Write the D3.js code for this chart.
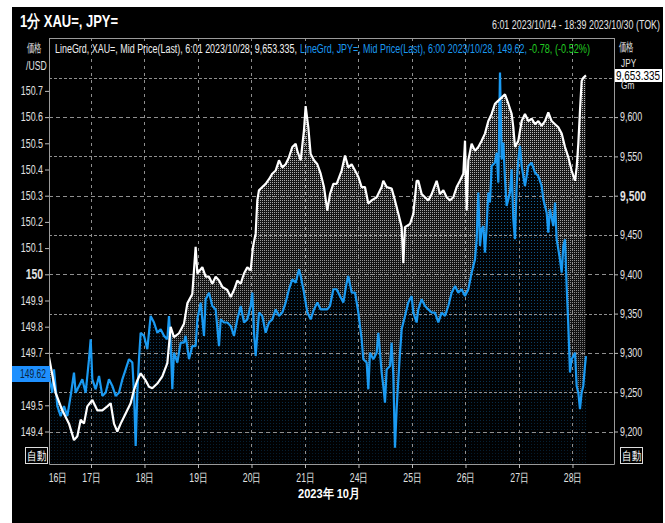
<!DOCTYPE html>
<html>
<head>
<meta charset="utf-8">
<script src="https://cdn.jsdelivr.net/npm/d3@7"></script>
<style>
body { margin: 0; background: #fff; }
svg { display: block; }
text { font-family: "Liberation Sans", Arial, sans-serif; }
</style>
</head>
<body>
<svg id="chart"></svg>
<script>
var width = 665,
    height = 523;

// day index 0 = 17日 boundary
var dayTicks = [0, 1, 2, 3, 4, 5, 6, 7, 8, 9];
var dayLabels = ["17日", "18日", "19日", "20日", "21日", "24日", "25日", "26日", "27日", "28日"];
var usdTicks = [149.4, 149.5, 149.7, 149.8, 149.9, 150, 150.1, 150.2, 150.3, 150.4, 150.5, 150.6, 150.7];
var xauTicks = [9200, 9250, 9300, 9350, 9400, 9450, 9500, 9550, 9600];
var gridTicks = [9200, 9250, 9300, 9350, 9400, 9450, 9500, 9550, 9600, 9650];

// XAU=/JPY (yen per gram), [day, value]
var xauData = [[-0.785,9295],[-0.660,9249],[-0.536,9227],[-0.411,9210],[-0.318,9189],[-0.255,9194],[-0.193,9215],[-0.131,9210],[-0.069,9232],[0.025,9240],[0.118,9227],[0.212,9227],[0.305,9232],[0.368,9236],[0.430,9210],[0.492,9200],[0.555,9210],[0.648,9223],[0.741,9236],[0.804,9253],[0.866,9265],[0.928,9274],[1.022,9265],[1.084,9257],[1.146,9255],[1.240,9261],[1.333,9270],[1.427,9287],[1.489,9333],[1.551,9320],[1.645,9325],[1.738,9337],[1.801,9363],[1.894,9375],[1.956,9435],[1.988,9401],[2.081,9409],[2.143,9397],[2.206,9397],[2.268,9388],[2.330,9397],[2.393,9392],[2.455,9384],[2.548,9380],[2.611,9371],[2.673,9380],[2.735,9392],[2.798,9388],[2.860,9401],[2.922,9409],[2.984,9405],[3.028,9435],[3.078,9452],[3.109,9494],[3.140,9507],[3.202,9511],[3.265,9515],[3.327,9521],[3.389,9528],[3.452,9532],[3.514,9545],[3.576,9536],[3.639,9540],[3.701,9549],[3.763,9562],[3.826,9566],[3.857,9557],[3.919,9545],[3.981,9583],[4.012,9614],[4.062,9587],[4.106,9553],[4.168,9545],[4.231,9540],[4.293,9528],[4.355,9511],[4.417,9481],[4.467,9502],[4.530,9515],[4.592,9515],[4.685,9532],[4.748,9551],[4.810,9536],[4.872,9540],[4.935,9532],[4.997,9524],[5.059,9511],[5.121,9511],[5.184,9490],[5.246,9494],[5.340,9498],[5.433,9511],[5.464,9519],[5.526,9511],[5.620,9509],[5.682,9494],[5.745,9477],[5.807,9460],[5.838,9414],[5.869,9460],[5.963,9464],[6.025,9477],[6.087,9519],[6.118,9519],[6.181,9502],[6.243,9498],[6.305,9494],[6.368,9502],[6.461,9519],[6.523,9502],[6.586,9507],[6.648,9498],[6.710,9494],[6.773,9498],[6.835,9511],[6.897,9519],[6.960,9528],[6.991,9570],[7.022,9481],[7.053,9545],[7.115,9566],[7.178,9557],[7.240,9562],[7.302,9570],[7.364,9579],[7.427,9595],[7.489,9604],[7.551,9617],[7.614,9621],[7.676,9625],[7.738,9629],[7.801,9617],[7.863,9604],[7.894,9587],[7.925,9562],[7.988,9570],[8.050,9595],[8.112,9604],[8.174,9595],[8.237,9598],[8.299,9591],[8.361,9595],[8.424,9589],[8.486,9595],[8.548,9606],[8.611,9595],[8.673,9591],[8.735,9587],[8.798,9579],[8.860,9562],[8.922,9549],[8.984,9532],[9.047,9519],[9.078,9536],[9.109,9566],[9.140,9608],[9.171,9646],[9.202,9650],[9.252,9653]];

// JPY= (USD/JPY), [day, value]
var usdData = [[-0.785,149.612],[-0.723,149.548],[-0.692,149.637],[-0.629,149.497],[-0.567,149.459],[-0.505,149.497],[-0.442,149.459],[-0.380,149.536],[-0.318,149.625],[-0.287,149.548],[-0.224,149.574],[-0.162,149.599],[-0.100,149.548],[-0.037,149.676],[-0.006,149.752],[0.025,149.599],[0.087,149.561],[0.150,149.612],[0.212,149.536],[0.274,149.548],[0.336,149.599],[0.399,149.574],[0.461,149.536],[0.523,149.548],[0.586,149.599],[0.648,149.637],[0.710,149.676],[0.773,149.663],[0.804,149.548],[0.835,149.345],[0.866,149.548],[0.897,149.676],[0.928,149.777],[0.991,149.765],[1.053,149.714],[1.115,149.841],[1.178,149.816],[1.240,149.777],[1.302,149.790],[1.364,149.765],[1.427,149.752],[1.458,149.841],[1.489,149.739],[1.520,149.561],[1.551,149.701],[1.614,149.663],[1.676,149.739],[1.738,149.739],[1.769,149.765],[1.832,149.676],[1.894,149.726],[1.956,149.726],[1.988,149.828],[2.050,149.892],[2.112,149.765],[2.143,149.905],[2.206,149.930],[2.268,149.879],[2.330,149.866],[2.393,149.726],[2.424,149.828],[2.486,149.816],[2.548,149.816],[2.611,149.803],[2.673,149.765],[2.735,149.828],[2.798,149.879],[2.860,149.816],[2.922,149.828],[2.984,149.879],[3.016,149.930],[3.047,149.777],[3.078,149.688],[3.140,149.854],[3.202,149.841],[3.265,149.777],[3.327,149.816],[3.389,149.828],[3.452,149.866],[3.514,149.841],[3.576,149.854],[3.639,149.892],[3.701,149.943],[3.763,149.981],[3.826,149.968],[3.888,150.019],[3.919,149.994],[3.981,149.930],[4.044,149.854],[4.106,149.828],[4.168,149.866],[4.231,149.892],[4.293,149.866],[4.355,149.866],[4.417,149.866],[4.467,149.879],[4.530,149.943],[4.592,149.943],[4.654,149.917],[4.717,149.892],[4.779,149.968],[4.810,149.994],[4.872,149.930],[4.935,149.930],[4.997,149.854],[5.028,149.803],[5.059,149.752],[5.090,149.676],[5.153,149.663],[5.184,149.561],[5.215,149.701],[5.277,149.676],[5.340,149.701],[5.371,149.777],[5.402,149.701],[5.433,149.625],[5.464,149.574],[5.495,149.510],[5.526,149.637],[5.589,149.650],[5.620,149.739],[5.651,149.612],[5.682,149.338],[5.713,149.485],[5.745,149.599],[5.776,149.701],[5.807,149.790],[5.869,149.841],[5.931,149.892],[5.994,149.917],[6.025,149.854],[6.087,149.816],[6.118,149.866],[6.181,149.905],[6.243,149.879],[6.305,149.866],[6.368,149.854],[6.430,149.854],[6.492,149.816],[6.555,149.854],[6.617,149.841],[6.679,149.879],[6.741,149.930],[6.804,149.955],[6.866,149.930],[6.928,149.943],[6.991,149.917],[7.053,149.943],[7.115,150.006],[7.178,150.057],[7.209,150.134],[7.240,150.312],[7.271,150.108],[7.302,150.172],[7.333,150.184],[7.364,150.083],[7.396,150.184],[7.427,150.312],[7.458,150.274],[7.489,150.413],[7.551,150.426],[7.583,150.464],[7.614,150.350],[7.645,150.770],[7.676,150.439],[7.707,150.503],[7.738,150.363],[7.769,150.261],[7.832,150.312],[7.863,150.401],[7.894,150.210],[7.925,150.134],[7.956,150.337],[7.988,150.439],[8.019,150.490],[8.050,150.413],[8.112,150.337],[8.174,150.413],[8.237,150.426],[8.299,150.388],[8.361,150.375],[8.424,150.337],[8.455,150.286],[8.517,150.235],[8.548,150.159],[8.579,150.248],[8.642,150.184],[8.673,150.274],[8.704,150.134],[8.766,150.057],[8.798,150.006],[8.829,150.108],[8.860,150.134],[8.891,149.955],[8.922,149.803],[8.953,149.625],[8.984,149.676],[9.047,149.701],[9.078,149.574],[9.109,149.548],[9.140,149.485],[9.171,149.548],[9.202,149.574],[9.233,149.650],[9.252,149.688]];

var pLeft = 49, pRight = 614, pTop = 38, pBottom = 464;
var gridCol = '#8f8f8f', textCol = '#e2e2e2', blue = '#1a9af2';

// squeeze a text to look like the narrow UI font
function narrow(sel, k) {
  sel.each(function() {
    var w = this.getComputedTextLength();
    d3.select(this).attr('textLength', w * k).attr('lengthAdjust', 'spacingAndGlyphs');
  });
}

var svg = d3.select('#chart')
    .attr('width', width)
    .attr('height', height);

svg.append('rect')
  .attr('x', 12).attr('y', 7)
  .attr('width', 651).attr('height', 516)
  .attr('fill', '#000');

var x = d3.scaleLinear().domain([-0.785, 9.776]).range([pLeft, pRight]);
var yL = d3.scaleLinear().domain([149.4, 150.7]).range([431.5, 90.9]);
var yR = d3.scaleLinear().domain([9200, 9600]).range([yL(149.4), yL(150.6)]);

// patterns and gradients
var defs = svg.append('defs');
var wp = defs.append('pattern').attr('id', 'wdots')
  .attr('patternUnits', 'userSpaceOnUse').attr('width', 2).attr('height', 2);
wp.append('rect').attr('width', 2).attr('height', 2).attr('fill', '#1a1a1a');
wp.append('rect').attr('width', 1).attr('height', 1).attr('fill', '#c8c8c8');

var bp = defs.append('pattern').attr('id', 'bdots')
  .attr('patternUnits', 'userSpaceOnUse').attr('width', 3).attr('height', 3);
bp.append('rect').attr('width', 3).attr('height', 3).attr('fill', '#010509');
bp.append('rect').attr('width', 1).attr('height', 1).attr('fill', '#1780cc');

var wg = defs.append('linearGradient').attr('id', 'wfade')
  .attr('gradientUnits', 'userSpaceOnUse')
  .attr('x1', 0).attr('y1', 90).attr('x2', 0).attr('y2', pBottom);
wg.append('stop').attr('offset', 0).attr('stop-color', '#000').attr('stop-opacity', 0);
wg.append('stop').attr('offset', 1).attr('stop-color', '#000').attr('stop-opacity', 0.55);

var bg = defs.append('linearGradient').attr('id', 'bfade')
  .attr('gradientUnits', 'userSpaceOnUse')
  .attr('x1', 0).attr('y1', 150).attr('x2', 0).attr('y2', pBottom);
bg.append('stop').attr('offset', 0).attr('stop-color', '#000').attr('stop-opacity', 0.1);
bg.append('stop').attr('offset', 1).attr('stop-color', '#000').attr('stop-opacity', 0.8);

defs.append('clipPath').attr('id', 'plotclip')
  .append('rect').attr('x', pLeft).attr('y', pTop)
  .attr('width', pRight - pLeft).attr('height', pBottom - pTop);

var plot = svg.append('g').attr('clip-path', 'url(#plotclip)');

var xauArea = d3.area()
    .x(function(d) { return x(d[0]); })
    .y0(pBottom)
    .y1(function(d) { return yR(d[1]); });
var usdArea = d3.area()
    .x(function(d) { return x(d[0]); })
    .y0(pBottom)
    .y1(function(d) { return yL(d[1]); });

plot.append('path').datum(xauData).attr('d', xauArea)
  .attr('fill', 'url(#wdots)').attr('shape-rendering', 'crispEdges');
plot.append('path').datum(xauData).attr('d', xauArea).attr('fill', 'url(#wfade)');
plot.append('path').datum(usdData).attr('d', usdArea)
  .attr('fill', 'url(#bdots)').attr('shape-rendering', 'crispEdges');
plot.append('path').datum(usdData).attr('d', usdArea).attr('fill', 'url(#bfade)');

// grid
plot.selectAll('.hgrid')
  .data(gridTicks)
  .enter().append('line')
  .attr('x1', pLeft).attr('x2', pRight)
  .attr('y1', function(d) { return Math.round(yR(d)) + 0.5; })
  .attr('y2', function(d) { return Math.round(yR(d)) + 0.5; })
  .attr('stroke', gridCol)
  .attr('stroke-dasharray', function(d) { return d % 100 === 0 ? '4,3' : '3,2'; });

plot.selectAll('.vgrid')
  .data(dayTicks)
  .enter().append('line')
  .attr('x1', function(d) { return Math.round(x(d)) + 0.5; })
  .attr('x2', function(d) { return Math.round(x(d)) + 0.5; })
  .attr('y1', pTop).attr('y2', pBottom)
  .attr('stroke', gridCol)
  .attr('stroke-dasharray', '3,4');

var usdLine = d3.line()
    .x(function(d) { return x(d[0]); })
    .y(function(d) { return yL(d[1]); });
var xauLine = d3.line()
    .x(function(d) { return x(d[0]); })
    .y(function(d) { return yR(d[1]); });

plot.append('path').datum(usdData).attr('d', usdLine)
  .attr('fill', 'none').attr('stroke', blue).attr('stroke-width', 2.2)
  .attr('stroke-linejoin', 'bevel');
plot.append('path').datum(xauData).attr('d', xauLine)
  .attr('fill', 'none').attr('stroke', '#fff').attr('stroke-width', 2.2)
  .attr('stroke-linejoin', 'bevel');

// frame
svg.append('path')
  .attr('d', 'M' + (pLeft + 0.5) + ',' + pTop + 'V' + (pBottom + 0.5) + 'H' + (pRight + 0.5) + 'V' + pTop)
  .attr('fill', 'none').attr('stroke', '#9a9a9a');
svg.append('line')
  .attr('x1', pLeft).attr('x2', pRight).attr('y1', pTop + 0.5).attr('y2', pTop + 0.5)
  .attr('stroke', '#9a9a9a');

// axes
var leftAxis = svg.append('g')
  .attr('transform', 'translate(' + pLeft + ',0)')
  .call(d3.axisLeft(yL).tickValues(usdTicks).tickSize(4).tickPadding(2)
    .tickFormat(function(d) { return d3.format('.1f')(d).replace(/\.0$/, ''); }));
leftAxis.select('.domain').remove();
leftAxis.selectAll('line').attr('stroke', '#bbb');
leftAxis.selectAll('text')
  .attr('fill', textCol)
  .style('font-size', function(d) { return d === 150 ? '14px' : '12px'; })
  .style('font-weight', function(d) { return d === 150 ? 'bold' : 'normal'; })
  .call(narrow, 0.74);

var rightAxis = svg.append('g')
  .attr('transform', 'translate(' + pRight + ',0)')
  .call(d3.axisRight(yR).tickValues(xauTicks).tickSize(4).tickPadding(2)
    .tickFormat(d3.format(',')));
rightAxis.select('.domain').remove();
rightAxis.selectAll('line').attr('stroke', '#bbb');
rightAxis.selectAll('text')
  .attr('fill', textCol)
  .style('font-size', function(d) { return d === 9500 ? '14px' : '12px'; })
  .style('font-weight', function(d) { return d === 9500 ? 'bold' : 'normal'; })
  .call(narrow, 0.74);

var bottomAxis = svg.append('g')
  .attr('transform', 'translate(0,' + pBottom + ')')
  .call(d3.axisBottom(x).tickValues(dayTicks).tickSize(4).tickPadding(5)
    .tickFormat(function(d, i) { return dayLabels[i]; }));
bottomAxis.select('.domain').remove();
bottomAxis.selectAll('line').attr('stroke', '#bbb');
bottomAxis.selectAll('text')
  .attr('fill', textCol)
  .style('font-size', '12px')
  .call(narrow, 0.72);

svg.append('text')
  .text('16日')
  .attr('x', x(-0.62)).attr('y', 482)
  .attr('fill', textCol).attr('font-size', 12)
  .style('text-anchor', 'middle')
  .call(narrow, 0.72);

svg.append('text')
  .text('2023年 10月')
  .attr('x', 329).attr('y', 498)
  .attr('fill', '#fff').attr('font-size', 13).attr('font-weight', 'bold')
  .style('text-anchor', 'middle')
  .attr('textLength', 62).attr('lengthAdjust', 'spacingAndGlyphs');

// title and header
svg.append('text')
  .text('1分 XAU=, JPY=')
  .attr('x', 20).attr('y', 27)
  .attr('fill', '#fff').attr('font-size', 17).attr('font-weight', 'bold')
  .attr('textLength', 98).attr('lengthAdjust', 'spacingAndGlyphs');

svg.append('text')
  .text('6:01 2023/10/14 - 18:39 2023/10/30 (TOK)')
  .attr('x', 492).attr('y', 29)
  .attr('fill', textCol).attr('font-size', 12)
  .attr('textLength', 168).attr('lengthAdjust', 'spacingAndGlyphs');

var legend = [
  {text: 'LineGrd, XAU=, Mid Price(Last), 6:01 2023/10/28, 9,653.335,', x0: 55, x1: 297, color: '#f0f0f0'},
  {text: 'LineGrd, JPY=, Mid Price(Last), 6:00 2023/10/28, 149.62,', x0: 300, x1: 527, color: blue},
  {text: '-0.78, (-0.52%)', x0: 529, x1: 590, color: '#22cc22'}
];
svg.selectAll('.legend')
  .data(legend)
  .enter().append('text')
  .text(function(d) { return d.text; })
  .attr('x', function(d) { return d.x0; })
  .attr('y', 53)
  .attr('fill', function(d) { return d.color; })
  .attr('font-size', 12)
  .attr('textLength', function(d) { return d.x1 - d.x0; })
  .attr('lengthAdjust', 'spacingAndGlyphs');

// axis unit labels
svg.append('text').text('価格').attr('x', 27).attr('y', 52)
  .attr('fill', textCol).attr('font-size', 12).call(narrow, 0.62);
svg.append('text').text('/USD').attr('x', 26).attr('y', 70)
  .attr('fill', textCol).attr('font-size', 12).call(narrow, 0.72);
svg.append('text').text('価格').attr('x', 619).attr('y', 51)
  .attr('fill', textCol).attr('font-size', 12).call(narrow, 0.62);
svg.append('text').text('JPY').attr('x', 621).attr('y', 67)
  .attr('fill', textCol).attr('font-size', 11).call(narrow, 0.75);
svg.append('text').text('Gm').attr('x', 621).attr('y', 89)
  .attr('fill', textCol).attr('font-size', 11).call(narrow, 0.75);

// last value boxes
var lastXau = 9653.335, lastUsd = 149.62;
svg.append('rect')
  .attr('x', 615).attr('y', Math.round(yR(lastXau)) - 6)
  .attr('width', 47).attr('height', 13).attr('fill', '#fff');
svg.append('text')
  .text(d3.format(',.3f')(lastXau))
  .attr('x', 616).attr('y', Math.round(yR(lastXau)) + 5)
  .attr('fill', '#000').attr('font-size', 12)
  .attr('textLength', 44).attr('lengthAdjust', 'spacingAndGlyphs');

svg.append('rect')
  .attr('x', 12).attr('y', Math.round(yL(lastUsd)) - 8)
  .attr('width', 38).attr('height', 16).attr('fill', '#1e90ff');
svg.append('text')
  .text(d3.format('.2f')(lastUsd))
  .attr('x', 20).attr('y', Math.round(yL(lastUsd)) + 4)
  .attr('fill', '#0a2540').attr('font-size', 12)
  .attr('textLength', 26).attr('lengthAdjust', 'spacingAndGlyphs');

// 自動 buttons
[{x: 25, y: 447}, {x: 620, y: 447}].forEach(function(b) {
  svg.append('rect')
    .attr('x', b.x + 0.5).attr('y', b.y + 0.5)
    .attr('width', 22).attr('height', 16)
    .attr('fill', '#000').attr('stroke', '#ddd');
  svg.append('text')
    .text('自動')
    .attr('x', b.x + 2).attr('y', b.y + 13)
    .attr('fill', '#fff').attr('font-size', 12)
    .attr('textLength', 19).attr('lengthAdjust', 'spacingAndGlyphs');
});
</script>
</body>
</html>
